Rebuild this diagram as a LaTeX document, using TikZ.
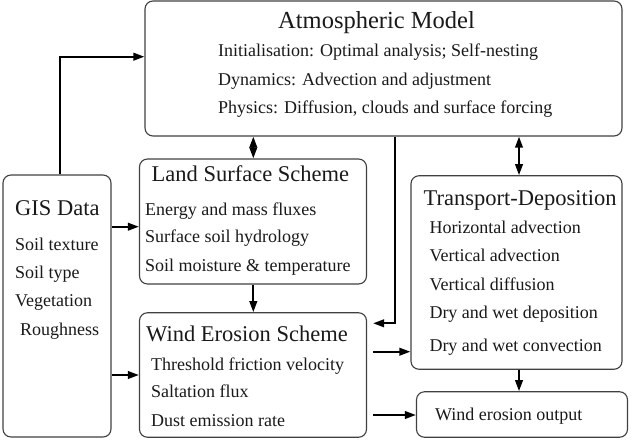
\documentclass[tikz,border=0pt]{standalone}
\usepackage{fontspec}
\setmainfont{Liberation Serif}
\usetikzlibrary{arrows.meta}
\begin{document}
\begin{tikzpicture}[x=1pt,y=-1pt,
  box/.style={draw=black!75, line width=1.1pt, rounded corners=8pt, inner sep=0pt},
  txt/.style={inner sep=0pt, anchor=base west, font=\fontsize{18}{20}\selectfont, text=black!90},
  ttl/.style={inner sep=0pt, anchor=base west, font=\fontsize{22.5}{26}\selectfont, text=black!90},
  arr/.style={line width=2.1pt, -{Triangle[length=11pt,width=7.5pt]}},
  darr/.style={line width=2.1pt, {Triangle[length=11pt,width=7.5pt]}-{Triangle[length=11pt,width=7.5pt]}}]
\useasboundingbox (0,0) rectangle (631,442);
% boxes
\node[box, minimum width=477pt, minimum height=135pt] (atm) at (383.5,68.5) {};
\node[box, minimum width=227pt, minimum height=125pt] (land) at (253,221.5) {};
\node[box, minimum width=108pt, minimum height=262pt] (gis) at (57,306) {};
\node[box, minimum width=227pt, minimum height=124.5pt] (wind) at (253,375) {};
\node[box, minimum width=211pt, minimum height=193.5pt] (trans) at (516.5,272.5) {};
\node[box, minimum width=211pt, minimum height=45.5pt] (out) at (522,414.5) {};
% Atmospheric model texts
\node[ttl, font=\fontsize{24.5}{28}\selectfont] (atmT) at (278,28.3) {Atmospheric Model};
\node[txt] (atm1) at (218,56.7) {Initialisation: Optimal analysis; Self-nesting};
\node[txt] (atm2) at (218,85) {Dynamics: Advection and adjustment};
\node[txt] (atm3) at (218,113.3) {Physics: Diffusion, clouds and surface forcing};
% Land surface
\node[ttl] (landT) at (151.5,181.7) {Land Surface Scheme};
\node[txt] (land1) at (145,215) {Energy and mass fluxes};
\node[txt] (land2) at (145,242.7) {Surface soil hydrology};
\node[txt] (land3) at (145,271.7) {Soil moisture \& temperature};
% GIS
\node[ttl] (gisT) at (15,215) {GIS Data};
\node[txt] (gis1) at (15,250.7) {Soil texture};
\node[txt] (gis2) at (15,278.3) {Soil type};
\node[txt] (gis3) at (15,306.7) {Vegetation};
\node[txt] (gis4) at (20,335) {Roughness};
% Wind erosion
\node[ttl] (windT) at (146,341.7) {Wind Erosion Scheme};
\node[txt] (wind1) at (151,370) {Threshold friction velocity};
\node[txt] (wind2) at (151,397.3) {Saltation flux};
\node[txt] (wind3) at (151,426.7) {Dust emission rate};
% Transport
\node[ttl] (transT) at (423.5,205) {Transport-Deposition};
\node[txt] (trans1) at (429.3,233.3) {Horizontal advection};
\node[txt] (trans2) at (429.3,261.7) {Vertical advection};
\node[txt] (trans3) at (429.3,290) {Vertical diffusion};
\node[txt] (trans4) at (429.3,318.3) {Dry and wet deposition};
\node[txt] (trans5) at (429.3,351.7) {Dry and wet convection};
% Output
\node[txt] (out1) at (435,420) {Wind erosion output};
% connectors
\draw[arr] ([xshift=3pt]gis.north) |- (atm.west |- 0,56.7);
\draw[darr] (atm.south -| 253.3,0) -- (land.north -| 253.3,0);
\draw[darr] (atm.south -| 519,0) -- (trans.north -| 519,0);
\draw[arr] (atm.south -| 395,0) |- ([xshift=6pt]wind.east |- 0,323.3);
\draw[arr] (gis.east |- 0,226.7) -- (land.west |- 0,226.7);
\draw[arr] (gis.east |- 0,375) -- (wind.west |- 0,375);
\draw[arr] (land.south -| 253.3,0) -- (wind.north -| 253.3,0);
\draw[arr] ([xshift=6pt]wind.east |- 0,351.7) -- (trans.west |- 0,351.7);
\draw[arr] ([xshift=6pt]wind.east |- 0,415) -- (out.west |- 0,415);
\draw[arr] (trans.south -| 519,0) -- (out.north -| 519,0);
\end{tikzpicture}
\end{document}
